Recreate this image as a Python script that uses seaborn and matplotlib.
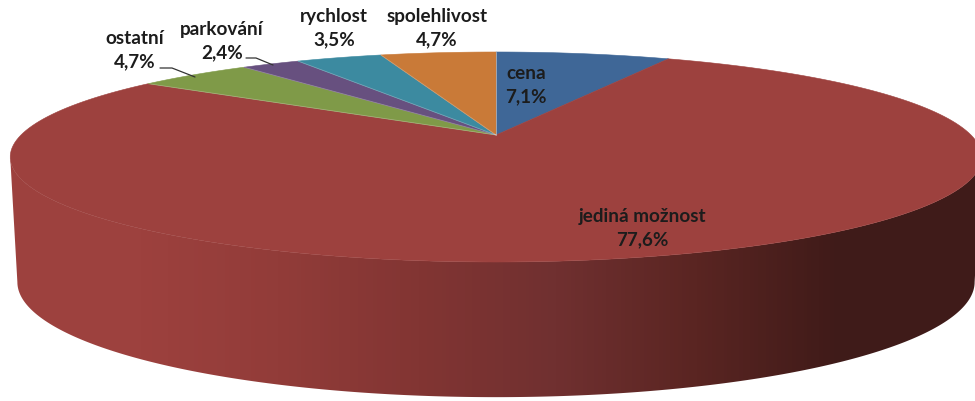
import numpy as np
import matplotlib.pyplot as plt
import seaborn as sns
from matplotlib.patches import Polygon

labels = ['cena', 'jediná možnost', 'ostatní', 'parkování', 'rychlost', 'spolehlivost']
values = [7.1, 77.6, 4.7, 2.4, 3.5, 4.7]
pct_text = ['7,1%', '77,6%', '4,7%', '2,4%', '3,5%', '4,7%']
colors = ['#3f6797', '#9d413e', '#7f9a48', '#67507f', '#3c8aa0', '#c97a38']
side_colors = ['#9d413e', '#9d413e', '#923c39', '#823533', '#703030', '#5a2522', '#401b19', '#3f1b19']

label_x = [526, 642, 135, 222, 334, 437]
label_y = [85, 228, 50, 41, 28, 28]

sns.set_theme(style='white')
plt.rcParams['font.family'] = ['Lato', 'DejaVu Sans']

K = 0.2095


def project(theta, cx, cy, a, b):
    # circle -> screen, far edge is squeezed (perspective)
    x, y = np.sin(theta), np.cos(theta)
    w = 1 + K * y
    return cx + a * x / w, cy - b * y / w


fig = plt.figure(figsize=(9.75, 4.01), dpi=100)
ax = fig.add_axes([0, 0, 1, 1])

# side of the disc with the left-to-right shading
edge = np.arccos(-K)
t = np.linspace(edge, 2 * np.pi - edge, 300)
top_x, top_y = project(t, 496, 135, 475, 100.4)
bot_x, bot_y = project(t, 496, 258, 468, 110)
side = Polygon(np.r_[np.c_[top_x, top_y], np.c_[bot_x, bot_y][::-1]], closed=True,
               facecolor='none', edgecolor='none')
ax.add_patch(side)
cmap = sns.blend_palette(side_colors, as_cmap=True)
img = ax.imshow(np.linspace(0, 1, 256)[None, :], extent=(0, 975, 401, 0), cmap=cmap, aspect='auto')
img.set_clip_path(side)

# slices on the top
fracs = np.array(values) / sum(values)
ends = np.cumsum(fracs) * 2 * np.pi
starts = np.r_[0, ends[:-1]]
for s, e, c in zip(starts, ends, colors):
    t = np.linspace(s, e, 200)
    px, py = project(t, 496, 135, 475, 100.4)
    ax.fill(np.r_[496, px], np.r_[135, py], facecolor=c, edgecolor=c, linewidth=0.4, zorder=3)

# thin light seams between the small slices
for e in ends[1:5]:
    px, py = project(e, 496, 135, 475, 100.4)
    ax.plot([496, px], [135, py], color='white', alpha=0.25, linewidth=0.6, zorder=4)
px, py = project(0, 496, 135, 475, 100.4)
ax.plot([496, px], [135, py], color='white', alpha=0.4, linewidth=0.7, zorder=4)

for name, pct, x, y in zip(labels, pct_text, label_x, label_y):
    ax.text(x, y, name + '\n' + pct, ha='center', va='center', fontsize=13.6,
            fontweight='bold', color='#1c1c1c', linespacing=1.47, zorder=5)

# leader lines
ax.plot([160, 172, 195], [68, 68, 77], color='#333333', linewidth=0.9, zorder=5)
ax.plot([246, 256, 273], [58, 58, 65], color='#333333', linewidth=0.9, zorder=5)

ax.set_xlim(0, 975)
ax.set_ylim(401, 0)
ax.axis('off')

fig.savefig('out.png', dpi=100)
